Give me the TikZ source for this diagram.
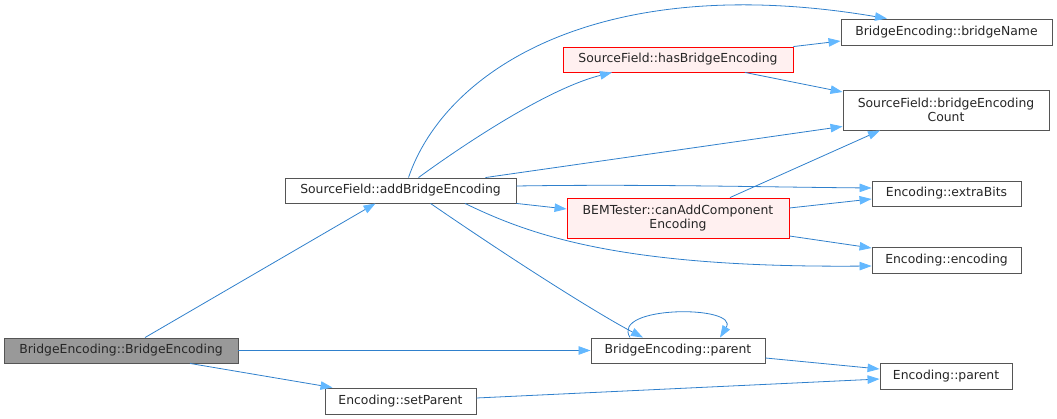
\documentclass[tikz,border=0pt]{standalone}
\usepackage{fontspec}
\setmainfont{DejaVu Sans}
\usetikzlibrary{arrows.meta}
\definecolor{edgeblue}{HTML}{2F80CC}
\definecolor{tipblue}{HTML}{63B8FF}
\definecolor{boxgrey}{HTML}{555555}
\definecolor{redfill}{HTML}{FFF0F0}
\definecolor{selfill}{HTML}{999999}
\begin{document}
\begin{tikzpicture}[x=1pt,y=-1pt,
  fn/.style={draw=boxgrey, fill=white, line width=0.9pt, inner sep=0pt, align=center,
    font=\fontsize{12.4}{14.5}\selectfont, text=black!85},
  redfn/.style={fn, draw=red, fill=redfill},
  selfn/.style={fn, fill=selfill},
  call/.style={draw=edgeblue, line width=0.8pt,
    -{Triangle[length=12pt,width=8.5pt,fill=tipblue,color=tipblue]}},
]
\useasboundingbox (0,0) rectangle (1057,419);
\node[selfn, minimum width=234pt, minimum height=25pt] (bebe) at (121,350.5) {BridgeEncoding::BridgeEncoding};
\node[fn, minimum width=231pt, minimum height=25pt] (add) at (400.5,190.5) {SourceField::addBridgeEncoding};
\node[fn, minimum width=151pt, minimum height=26pt] (setp) at (400.5,401) {Encoding::setParent};
\node[redfn, minimum width=230pt, minimum height=25pt] (has) at (678,59.5) {SourceField::hasBridgeEncoding};
\node[fn, minimum width=211pt, minimum height=26pt] (bname) at (946.5,32) {BridgeEncoding::bridgeName};
\node[fn, minimum width=206pt, minimum height=40pt] (bec) at (946,110) {SourceField::bridgeEncoding\\Count};
\node[redfn, minimum width=222pt, minimum height=40pt] (can) at (678,218) {BEMTester::canAddComponent\\Encoding};
\node[fn, minimum width=149pt, minimum height=25pt] (extra) at (946.5,193.5) {Encoding::extraBits};
\node[fn, minimum width=149pt, minimum height=26pt] (enc) at (946.5,260) {Encoding::encoding};
\node[fn, minimum width=174pt, minimum height=25pt] (bpar) at (678,350.5) {BridgeEncoding::parent};
\node[fn, minimum width=132pt, minimum height=26pt] (epar) at (946,376) {Encoding::parent};

\draw[call] ([xshift=24pt]bebe.north) -- ([xshift=-25pt]add.south);
\draw[call] (bebe.east) -- (bpar.west);
\draw[call] ([xshift=69pt]bebe.south) -- ([xshift=-68pt]setp.north);

\draw[call] ([xshift=8pt]add.north) .. controls (445,70) and (600,-30) .. ([xshift=-59.5pt]bname.north);
\draw[call] ([xshift=18pt]add.north) .. controls (470,140) and (550,88) .. ([xshift=-66pt]has.south);
\draw[call] ([xshift=85pt]add.north) -- ([yshift=4pt]bec.south west);
\draw[call] ([yshift=4.5pt]add.east) .. controls (640,184) and (760,187) .. ([yshift=5.5pt]extra.west);
\draw[call] (add.south east) -- ([yshift=9pt]can.west);
\draw[call] ([xshift=64.5pt]add.south) .. controls (530,235) and (620,268) .. ([yshift=-6pt]enc.west);
\draw[call] ([xshift=30pt]add.south) .. controls (520,265) and (600,315) .. ([xshift=-35pt]bpar.north);

\draw[call] (has.north east) -- ([yshift=-9pt]bname.west);
\draw[call] ([xshift=67pt]has.south) -- ([yshift=18pt]bec.west);

\draw[call] ([xshift=52pt]can.north) -- ([xshift=-66pt]bec.south);
\draw[call] ([yshift=10pt]can.east) -- ([yshift=-5.5pt]extra.west);
\draw[call] ([yshift=-18pt]can.east) -- ([yshift=12pt]enc.west);

\draw[call] ([xshift=-48pt]bpar.north) .. controls (610,305) and (740,305) .. ([xshift=42pt]bpar.north);
\draw[call] ([yshift=-7.5pt]bpar.east) -- ([yshift=7pt]epar.west);
\draw[call] ([yshift=3pt]setp.east) -- ([yshift=-3pt]epar.west);
\end{tikzpicture}
\end{document}
